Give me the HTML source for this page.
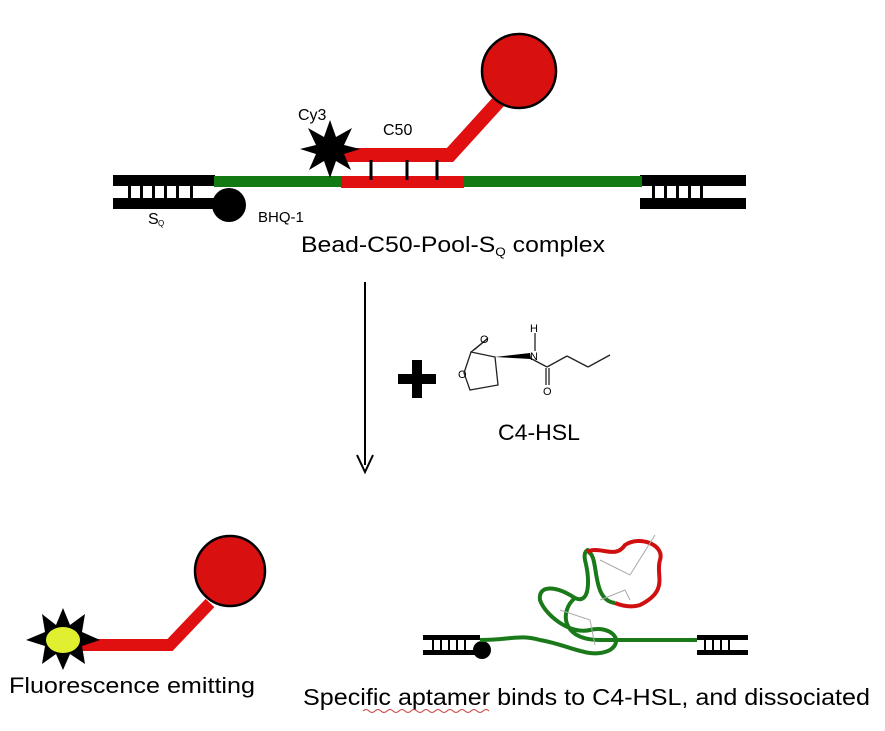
<!DOCTYPE html>
<html><head><style>
body{margin:0;background:#fff;}
svg{display:block;}
text{font-family:"Liberation Sans",sans-serif;}
</style></head><body>
<svg width="885" height="731" viewBox="0 0 885 731">
<rect x="113" y="175" width="102" height="11" fill="#000"/>
<rect x="113" y="198" width="102" height="11" fill="#000"/>
<g fill="#000">
<rect x="128" y="186" width="3" height="12"/><rect x="140" y="186" width="3" height="12"/><rect x="152" y="186" width="3" height="12"/><rect x="164" y="186" width="3" height="12"/><rect x="176" y="186" width="3" height="12"/><rect x="190" y="186" width="3" height="12"/>
</g>
<rect x="640" y="175" width="106" height="11" fill="#000"/>
<rect x="640" y="198" width="106" height="11" fill="#000"/>
<g fill="#000">
<rect x="652" y="186" width="3" height="12"/><rect x="664" y="186" width="3" height="12"/><rect x="676" y="186" width="3" height="12"/><rect x="688" y="186" width="3" height="12"/><rect x="700" y="186" width="3" height="12"/>
</g>
<rect x="214" y="176" width="428" height="11" fill="#137a13"/>
<rect x="341" y="176" width="123" height="12" fill="#e01010"/>
<path d="M340 155 L450 155 L500 100" stroke="#e01010" stroke-width="14" fill="none"/>
<circle cx="519" cy="71" r="37" fill="#d81010" stroke="#000" stroke-width="2.5"/>
<g stroke="#000" stroke-width="3">
<line x1="371" y1="160" x2="371" y2="180"/><line x1="407" y1="160" x2="407" y2="180"/><line x1="437" y1="160" x2="437" y2="180"/>
</g>
<polygon fill="#000" points="330,120 336,137 352,128 344,145 360,149 344,154 351,170 336,161 330,178 324,161 309,170 316,154 300,149 316,145 308,128 324,137"/>
<text x="298" y="120" font-size="16" font-family="Liberation Mono">Cy3</text>
<text x="383" y="135" font-size="16" font-family="Liberation Mono">C50</text>
<circle cx="229" cy="205" r="17" fill="#000"/>
<text x="258" y="222" font-size="15" font-family="Liberation Mono">BHQ-1</text>
<text x="148" y="224" font-size="16">S</text><text x="158" y="226" font-size="8">Q</text>
<text x="301" y="252" font-size="22" textLength="304" lengthAdjust="spacingAndGlyphs">Bead-C50-Pool-S<tspan font-size="12" dy="4">Q</tspan><tspan dy="-4"> complex</tspan></text>
<line x1="365" y1="282" x2="365" y2="465" stroke="#000" stroke-width="2"/>
<path d="M357 455 L365 472 L373 455" stroke="#000" stroke-width="2" fill="none"/>
<rect x="398" y="374" width="38" height="10" fill="#000"/>
<rect x="412" y="360" width="10" height="38" fill="#000"/>
<g stroke="#222" stroke-width="1.3" fill="none">
<path d="M464 373 L471 352 L495 357 L498 385 L470 390 Z"/>
<line x1="471" y1="352" x2="486" y2="340"/>
<line x1="474" y1="350" x2="488" y2="338" />
<line x1="530" y1="358" x2="547" y2="367"/>
<line x1="547" y1="367" x2="567" y2="356"/><line x1="567" y1="356" x2="588" y2="367"/><line x1="588" y1="367" x2="610" y2="355"/>
<line x1="546" y1="368" x2="546" y2="385"/><line x1="549" y1="368" x2="549" y2="385"/>
<line x1="535" y1="333" x2="535" y2="351"/>
</g>
<polygon points="495,357 530,353 531,359" fill="#000"/>
<text x="480" y="343" font-size="11">O</text>
<text x="458" y="378" font-size="11">O</text>
<text x="530" y="360" font-size="11">N</text>
<text x="530" y="332" font-size="11">H</text>
<text x="543" y="395" font-size="11">O</text>
<text x="498" y="440" font-size="22" textLength="82" lengthAdjust="spacingAndGlyphs">C4-HSL</text>
<path d="M80 645 L170 645 L210 603" stroke="#e01010" stroke-width="12" fill="none"/>
<circle cx="230" cy="571" r="35" fill="#d81010" stroke="#000" stroke-width="2.5"/>
<polygon fill="#000" points="63,608 70,625 85,614 82,632 100,640 82,646 85,664 70,654 63,670 56,654 42,664 45,646 26,640 45,632 42,614 56,625"/>
<ellipse cx="63" cy="640" rx="17" ry="13" fill="#e0f030"/>
<text x="9" y="693" font-size="22" textLength="246" lengthAdjust="spacingAndGlyphs">Fluorescence emitting</text>
<rect x="423" y="635" width="57" height="5" fill="#000"/>
<rect x="423" y="650" width="57" height="5" fill="#000"/>
<g fill="#000"><rect x="432" y="640" width="2" height="10"/><rect x="440" y="640" width="2" height="10"/><rect x="448" y="640" width="2" height="10"/><rect x="456" y="640" width="2" height="10"/><rect x="464" y="640" width="2" height="10"/></g>
<rect x="697" y="635" width="51" height="5" fill="#000"/>
<rect x="697" y="650" width="51" height="5" fill="#000"/>
<g fill="#000"><rect x="704" y="640" width="2" height="10"/><rect x="712" y="640" width="2" height="10"/><rect x="720" y="640" width="2" height="10"/><rect x="728" y="640" width="2" height="10"/></g>
<circle cx="482" cy="650" r="9" fill="#000"/>
<path d="M480 640 C510 640 520 634 540 640 C570 645 590 660 610 650 C625 640 610 625 590 630 C570 635 545 615 540 600 C538 585 555 585 575 598 C590 605 590 580 585 560 C583 550 590 548 588 552 M588 552 C600 555 590 600 615 603 M575 598 C560 610 560 640 600 640 C640 640 660 640 697 640" stroke="#1a7a1a" stroke-width="4" fill="none"/>
<path d="M587 552 C600 545 615 560 625 545 C640 535 665 545 660 560 C655 575 670 590 640 605 C630 608 620 605 615 603" stroke="#d01010" stroke-width="4" fill="none"/>
<g stroke="#aaa" stroke-width="1" fill="none"><path d="M600 600 L625 590 L630 600 M600 560 L630 575 L655 535 M560 610 L590 620 L595 645"/></g>
<text x="303" y="705" font-size="23" textLength="567" lengthAdjust="spacingAndGlyphs">Specific aptamer binds to C4-HSL, and dissociated</text>
<path d="M363 711 q3 -3 6 0 t6 0 t6 0 t6 0 t6 0 t6 0 t6 0 t6 0 t6 0 t6 0 t6 0 t6 0 t6 0 t6 0 t6 0 t6 0 t6 0 t6 0 t6 0 t6 0 t6 0" stroke="#d04040" stroke-width="1" fill="none"/>
</svg>
</body></html>
